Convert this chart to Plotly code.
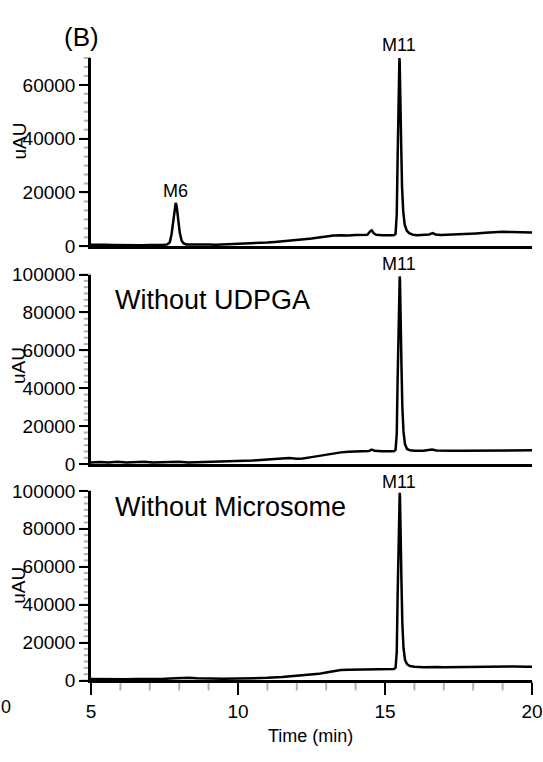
import plotly.graph_objects as go
from plotly.subplots import make_subplots

# ---------------- data ----------------
t_top = [5.0, 5.25, 5.5, 5.75, 6.0, 6.25, 6.5, 6.75, 7.0, 7.25, 7.45, 7.6, 7.68, 7.74, 7.8, 7.85,
         7.88, 7.91, 7.96, 8.02, 8.08, 8.15, 8.25, 8.5, 8.75, 9.0, 9.25, 9.5, 9.75, 10.0, 10.25,
         10.5, 10.75, 11.0, 11.25, 11.5, 11.75, 12.0, 12.25, 12.5, 12.75, 13.0, 13.25, 13.5,
         13.75, 14.0, 14.25, 14.4, 14.5, 14.55, 14.62, 14.7, 14.9, 15.1, 15.3, 15.36, 15.4,
         15.43, 15.46, 15.48, 15.49, 15.5, 15.52, 15.55, 15.58, 15.62, 15.67, 15.74, 15.82,
         15.95, 16.1, 16.3, 16.5, 16.62, 16.72, 16.9, 17.2, 17.5, 17.8, 18.1, 18.4, 18.7, 19.0,
         19.3, 19.6, 20.0]
y_top = [600, 450, 550, 500, 420, 520, 480, 400, 500, 450, 520, 700, 1500, 4500, 10500, 15000,
         16100, 15200, 10500, 5000, 2200, 1100, 700, 600, 550, 650, 600, 700, 750, 850, 900,
         1050, 1200, 1400, 1600, 1800, 2000, 2300, 2600, 2900, 3300, 3700, 4000, 4100,
         4000, 4200, 4100, 4300, 5600, 5900, 4800, 4300, 4100, 4200, 4100, 4600, 12000,
         33000, 60000, 68500, 70000, 68500, 60000, 38000, 22000, 13000, 8000, 5800, 4900,
         4300, 4100, 4200, 4400, 4900, 4400, 4200, 4300, 4400, 4600, 4800, 5000, 5300, 5400,
         5300, 5200, 5100]

t_mid = [5.0, 5.3, 5.6, 5.9, 6.2, 6.5, 6.8, 7.1, 7.4, 7.7, 8.0, 8.3, 8.6, 9.0, 9.5, 10.0, 10.5,
         11.0, 11.5, 11.75, 12.0, 12.2, 12.5, 12.75, 13.0, 13.25, 13.5, 13.75, 14.0, 14.25,
         14.45, 14.55, 14.65, 14.9, 15.1, 15.3, 15.36, 15.4, 15.43, 15.47, 15.49, 15.5, 15.51,
         15.53, 15.56, 15.59, 15.63, 15.68, 15.75, 15.85, 16.0, 16.3, 16.6, 16.75, 17.0, 17.3,
         17.6, 18.0, 18.4, 18.8, 19.2, 19.6, 20.0]
y_mid = [900, 1100, 800, 1200, 900, 1000, 1300, 900, 1100, 1000, 1200, 900, 1000, 1100, 1300,
         1500, 1900, 2400, 2900, 3200, 2800, 3000, 3700, 4400, 5200, 5800, 6200, 6500, 6700,
         6800, 6900, 7700, 7000, 6800, 6700, 6800, 7500, 16000, 45000, 85000, 97000, 99000,
         97000, 85000, 52000, 30000, 17000, 10500, 8000, 7300, 7000, 7100, 7700, 7200, 7000,
         7100, 7000, 7100, 7200, 7100, 7300, 7200, 7300]

t_bot = [5.0, 5.3, 5.6, 5.9, 6.2, 6.5, 6.8, 7.1, 7.4, 7.7, 8.0, 8.3, 8.6, 9.0, 9.5, 10.0, 10.5,
         11.0, 11.5, 12.0, 12.5, 12.75, 13.0, 13.25, 13.5, 13.75, 14.0, 14.25, 14.5, 14.75,
         15.0, 15.3, 15.36, 15.4, 15.43, 15.47, 15.49, 15.5, 15.51, 15.53, 15.56, 15.59, 15.63,
         15.68, 15.75, 15.85, 16.0, 16.3, 16.6, 16.75, 17.0, 17.4, 17.8, 18.2, 18.6, 19.0, 19.4,
         19.8, 20.0]
y_bot = [800, 700, 900, 800, 600, 800, 700, 900, 800, 1000, 1400, 1500, 1200, 1000, 900, 1000,
         1100, 1400, 1800, 2400, 3000, 3500, 4200, 5000, 5500, 5700, 5800, 5900, 6000, 5800,
         5900, 6000, 6800, 15000, 45000, 85000, 97000, 99000, 97000, 85000, 52000, 30000, 17000,
         11000, 8600, 7600, 7200, 7000, 7300, 7100, 7000, 7100, 7200, 7300, 7500, 7600, 7400,
         7300, 7300]

x_ticks = [5, 10, 15, 20]
panel_labels = ["(B)", "Without UDPGA", "Without Microsome"]
peak_labels = ["M6", "M11"]

# ---------------- figure ----------------
W, H = 543, 762
ML, MR = 91, 10
PW = W - ML - MR
FONT = "Liberation Sans, Arial, sans-serif"
X_RANGE = [5, 20]

def py(pix):
    return 1 - pix / H

def px(pix):
    return (pix - ML) / PW

fig = make_subplots(rows=3, cols=1)
line = dict(color="black", width=2.5)
for r, (tx, vy) in enumerate([(t_top, y_top), (t_mid, y_mid), (t_bot, y_bot)], start=1):
    fig.add_trace(go.Scatter(x=tx, y=vy, mode="lines", line=line, showlegend=False),
                  row=r, col=1)

bottoms = [243, 467, 689.5]
tops = [49.3, 272, 494.5]
domains = [[py(b), py(t)] for b, t in zip(bottoms, tops)]
ranges = [[0, 70000], [0, 100000], [0, 100000]]

base = dict(ticks="outside", tickwidth=2, tickcolor="#000000", showline=True,
            linecolor="#000000", linewidth=2.5, showgrid=False)
fig.update_xaxes(range=X_RANGE, **base)
fig.update_yaxes(ticklen=9, **base)

for r in range(1, 4):
    i = r - 1
    if r < 3:
        fig.update_xaxes(ticks="", showticklabels=False, row=r, col=1)
    else:
        fig.update_xaxes(ticklen=12, tickmode="array", tickvals=x_ticks,
                         ticklabeloverflow="allow", row=r, col=1)
    fig.update_yaxes(domain=domains[i], range=ranges[i], dtick=20000, tickformat="d",
                     row=r, col=1)

# tick marks as paper-referenced shapes (positions follow each axis' domain and range)
shapes = []
tick_style = dict(type="line", line=dict(color="black", width=2), layer="above",
                  xref="paper", yref="paper")
for i in range(3):
    d0, d1 = domains[i]
    lo, hi = ranges[i]
    step = 20000 / 6
    n = int(round(hi / step))
    for k in range(n + 1):
        v = k * step
        yp = d0 + (v - lo) / (hi - lo) * (d1 - d0)
        L = 9 if k % 6 == 0 else 6
        shapes.append(dict(tick_style, x0=px(ML - 1.2 - L), x1=px(ML - 0.5), y0=yp, y1=yp))
for v in range(5, 21):
    xp = (v - X_RANGE[0]) / (X_RANGE[1] - X_RANGE[0])
    L = 12 if v % 5 == 0 else 9
    shapes.append(dict(tick_style, x0=xp, x1=xp,
                       y0=py(bottoms[2] + 0.5), y1=py(bottoms[2] + 1.2 + L)))

ann = []
def add_text(text, x, y, size, xref="paper", yref="paper", xanchor="center", angle=0):
    ann.append(dict(text=text, x=x, y=y, xref=xref, yref=yref, showarrow=False,
                    xanchor=xanchor, yanchor="middle", textangle=angle,
                    font=dict(family=FONT, size=size, color="black")))

add_text(panel_labels[0], px(81), py(28), 26)
add_text(panel_labels[1], px(113), py(298), 27, xanchor="left")
add_text(panel_labels[2], px(113), py(511), 27, xanchor="left")
for yc in (135, 366, 592):
    add_text("uAU", px(19), py(yc), 19, angle=-90)
add_text(peak_labels[0], 7.88, py(186), 18, xref="x")
for yc in (35.5, 261, 485):
    add_text(peak_labels[1], 15.49, py(yc), 18, xref="x")
add_text("Time (min)", px(311), py(747), 18)
add_text("0", px(6), py(717), 18)

fig.update_layout(template="simple_white", width=W, height=H,
                  margin=dict(l=ML, r=MR, t=0, b=0),
                  font=dict(family=FONT, size=19, color="black"),
                  showlegend=False, annotations=ann, shapes=shapes)

fig.write_html("out.html")
